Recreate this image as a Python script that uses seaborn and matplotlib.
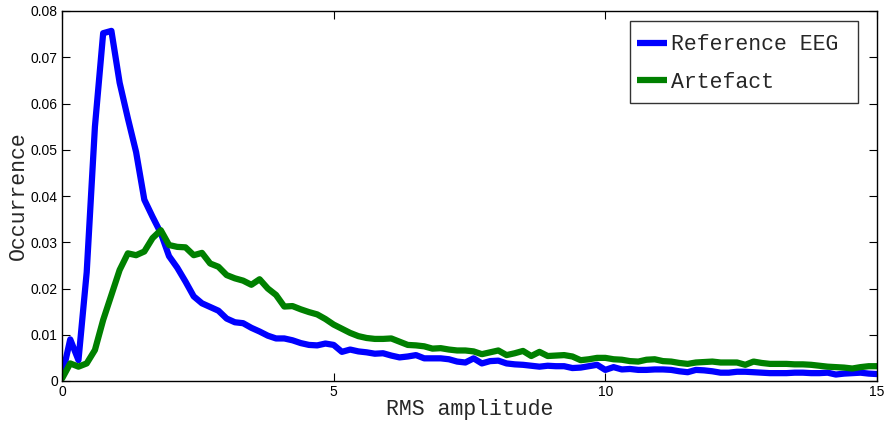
import matplotlib
matplotlib.use("Agg")
import matplotlib.pyplot as plt
import numpy as np
import pandas as pd
import seaborn as sns

# RMS amplitude bins (100 bins over 0..15)
rms = np.linspace(0, 15, 100)

reference_eeg = [
    0.0010, 0.0090, 0.0045, 0.0235, 0.0550, 0.0752, 0.0757, 0.0645, 0.0568, 0.0495,
    0.0392, 0.0355, 0.0320, 0.0270, 0.0245, 0.0215, 0.0183, 0.0168, 0.0160, 0.0152,
    0.0135, 0.0127, 0.0125, 0.0115, 0.0107, 0.0098, 0.0092, 0.0092, 0.0088, 0.0082,
    0.0078, 0.0077, 0.0081, 0.0078, 0.0063, 0.0068, 0.0064, 0.0062, 0.0059, 0.0060,
    0.0055, 0.0051, 0.0053, 0.0056, 0.0049, 0.0049, 0.0049, 0.0047, 0.0042, 0.0040,
    0.0049, 0.0038, 0.0043, 0.0044, 0.0038, 0.0036, 0.0035, 0.0033, 0.0031, 0.0033,
    0.0032, 0.0032, 0.0028, 0.0029, 0.0032, 0.0035, 0.0024, 0.0030, 0.0025, 0.0026,
    0.0024, 0.0024, 0.0025, 0.0025, 0.0024, 0.0021, 0.0019, 0.0024, 0.0023, 0.0021,
    0.0018, 0.0018, 0.0020, 0.0020, 0.0019, 0.0018, 0.0017, 0.0017, 0.0017, 0.0018,
    0.0018, 0.0017, 0.0017, 0.0018, 0.0014, 0.0016, 0.0017, 0.0018, 0.0016, 0.0015,
]

artefact = [
    0.0005, 0.0038, 0.0031, 0.0038, 0.0067, 0.0132, 0.0186, 0.0240, 0.0276, 0.0272,
    0.0280, 0.0309, 0.0326, 0.0294, 0.0290, 0.0289, 0.0272, 0.0277, 0.0254, 0.0247,
    0.0229, 0.0222, 0.0217, 0.0208, 0.0220, 0.0200, 0.0186, 0.0161, 0.0162, 0.0155,
    0.0149, 0.0144, 0.0134, 0.0122, 0.0113, 0.0104, 0.0097, 0.0093, 0.0091, 0.0091,
    0.0092, 0.0085, 0.0078, 0.0077, 0.0075, 0.0070, 0.0071, 0.0068, 0.0066, 0.0066,
    0.0064, 0.0058, 0.0062, 0.0066, 0.0056, 0.0060, 0.0065, 0.0054, 0.0063, 0.0054,
    0.0055, 0.0056, 0.0053, 0.0045, 0.0047, 0.0050, 0.0050, 0.0047, 0.0046, 0.0043,
    0.0042, 0.0046, 0.0047, 0.0043, 0.0042, 0.0039, 0.0037, 0.0040, 0.0041, 0.0042,
    0.0040, 0.0040, 0.0040, 0.0035, 0.0042, 0.0039, 0.0037, 0.0037, 0.0037, 0.0036,
    0.0036, 0.0035, 0.0033, 0.0031, 0.0030, 0.0029, 0.0027, 0.0030, 0.0032, 0.0032,
]

series = ["Reference EEG", "Artefact"]
colors = ["#0000ff", "#008000"]
yticks = [0, 0.01, 0.02, 0.03, 0.04, 0.05, 0.06, 0.07, 0.08]
ytick_labels = ["0", "0.01", "0.02", "0.03", "0.04", "0.05", "0.06", "0.07", "0.08"]
xticks = [0, 5, 10, 15]

df = pd.concat([
    pd.DataFrame({"rms": rms, "occ": reference_eeg, "kind": series[0]}),
    pd.DataFrame({"rms": rms, "occ": artefact, "kind": series[1]}),
])

sns.set_style("ticks")
plt.rcParams["font.family"] = ["Liberation Sans", "DejaVu Sans"]
mono = ["Liberation Mono", "DejaVu Sans Mono"]

fig = plt.figure(figsize=(8.84, 4.21), dpi=100)
ax = fig.add_axes([62 / 884, 40 / 421, 815 / 884, 370 / 421])

sns.lineplot(data=df, x="rms", y="occ", hue="kind", hue_order=series,
             palette=dict(zip(series, colors)), linewidth=4.5, ax=ax,
             legend=True)

ax.set_xlim(0, 15)
ax.set_ylim(0, 0.08)
ax.set_xticks(xticks)
ax.set_xticklabels([str(t) for t in xticks])
ax.set_yticks(yticks)
ax.set_yticklabels(ytick_labels)
ax.tick_params(direction="in", length=6, width=0.8, top=True, right=True,
               labelsize=10, colors="black", pad=3)
for s in ax.spines.values():
    s.set_visible(True)
    s.set_linewidth(1.0)
    s.set_color("black")

ax.set_xlabel("RMS amplitude", family=mono, fontsize=15.5, labelpad=0)
ax.set_ylabel("Occurrence", family=mono, fontsize=15.5, labelpad=1)

# matlab-style legend leaves some room right of the text
handles, labels = ax.get_legend_handles_labels()
leg = ax.legend(handles, [l + " " for l in labels],
                loc="upper right", bbox_to_anchor=(858 / 884, 400 / 421),
                bbox_transform=fig.transFigure, borderaxespad=0,
                prop={"family": mono, "size": 15.5}, handlelength=1.4,
                handleheight=1.9, handletextpad=0.2, labelspacing=0.25,
                borderpad=0.3, fancybox=False, frameon=True)
leg.get_frame().set_edgecolor("black")
leg.get_frame().set_linewidth(1.0)
for h in leg.get_lines():
    h.set_linewidth(4.5)
    h.set_solid_capstyle("butt")
    h.set_ydata(np.full(len(h.get_xdata()), 5.3))  # centre on the text

fig.savefig("out.png", dpi=100)
